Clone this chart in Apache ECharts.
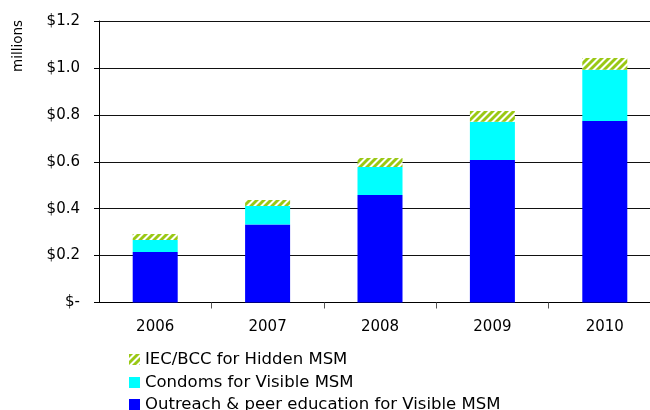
<!DOCTYPE html>
<html>
<head>
<meta charset="utf-8">
<script src="https://cdn.jsdelivr.net/npm/echarts@6/dist/echarts.min.js"></script>
<style>
  html, body { margin: 0; padding: 0; background: #fff; }
  #chart { width: 650px; height: 410px; }
</style>
</head>
<body>
<div id="chart"></div>
<script>
// Annual budget by component, US$ millions
const years = ['2006', '2007', '2008', '2009', '2010'];
const outreach = [0.215, 0.332, 0.458, 0.607, 0.774];
const condoms = [0.051, 0.079, 0.120, 0.164, 0.218];
const iecBcc = [0.026, 0.026, 0.038, 0.045, 0.050];
const yTicks = [0, 0.2, 0.4, 0.6, 0.8, 1.0, 1.2];

const seriesNames = {
  iec: 'IEC/BCC for Hidden MSM',
  condoms: 'Condoms for Visible MSM',
  outreach: 'Outreach & peer education for Visible MSM'
};

// Diagonal ("/") yellow-green and white stripe fill
function stripePattern() {
  const period = 7;
  const c = document.createElement('canvas');
  c.width = period; c.height = period;
  const g = c.getContext('2d');
  const img = g.createImageData(period, period);
  for (let y = 0; y < period; y++) {
    for (let x = 0; x < period; x++) {
      const k = (x + y) % period;
      const i = (y * period + x) * 4;
      let r = 255, gg = 255, b = 255;
      if (k < 3) { r = 154; gg = 200; b = 20; }
      else if (k === 3 || k === 6) { r = 200; gg = 225; b = 130; }
      img.data[i] = r; img.data[i + 1] = gg; img.data[i + 2] = b; img.data[i + 3] = 255;
    }
  }
  g.putImageData(img, 0, 0);
  return { image: c, repeat: 'repeat' };
}

const font = '"DejaVu Sans", Verdana, sans-serif';
const fs = 15;
const chart = echarts.init(document.getElementById('chart'), null, { renderer: 'canvas' });

// One single-entry legend per row, stacked vertically under the plot
function legendRow(name, top) {
  return {
    orient: 'horizontal',
    left: 129,
    top: top,
    padding: 0,
    itemWidth: 11,
    itemHeight: 11,
    itemGap: 0,
    icon: 'rect',
    selectedMode: false,
    textStyle: { fontFamily: font, fontSize: 16.5, color: '#000' },
    data: [name]
  };
}

chart.setOption({
  animation: false,
  textStyle: { fontFamily: font },
  grid: {
    left: 99, top: 21, width: 562, height: 281.5,
    containLabel: false, outerBoundsMode: 'none'
  },
  legend: [
    legendRow(seriesNames.iec, 351),
    legendRow(seriesNames.condoms, 374),
    legendRow(seriesNames.outreach, 396)
  ],
  graphic: [{
    type: 'text',
    x: 18,
    y: 46,
    rotation: Math.PI / 2,
    style: {
      text: 'millions', font: '13.5px ' + font, fill: '#000',
      align: 'center', verticalAlign: 'middle'
    }
  }],
  xAxis: {
    type: 'category',
    data: years,
    axisLine: { lineStyle: { color: '#000', width: 1 } },
    axisTick: {
      show: true, length: 6, lineStyle: { color: '#555' },
      interval: (i) => i !== 0
    },
    axisLabel: { fontSize: fs, color: '#000', margin: 17, fontFamily: font },
    splitLine: { show: false }
  },
  yAxis: {
    type: 'value',
    min: 0,
    max: 1.2,
    interval: 0.2,
    axisLine: { show: true, lineStyle: { color: '#000', width: 1 } },
    axisTick: { show: true, inside: false, length: 5, lineStyle: { color: '#000' } },
    axisLabel: {
      fontSize: fs, color: '#000', margin: 19, fontFamily: font,
      formatter: v => {
        const t = yTicks.find(x => Math.abs(x - v) < 1e-9);
        return t === 0 ? '$-' : '$' + t.toFixed(1);
      }
    },
    splitLine: { show: true, lineStyle: { color: '#111', width: 1 } }
  },
  series: [
    {
      name: seriesNames.outreach, type: 'bar', stack: 'total', barWidth: 45,
      itemStyle: { color: '#0000FF' }, data: outreach
    },
    {
      name: seriesNames.condoms, type: 'bar', stack: 'total', barWidth: 45,
      itemStyle: { color: '#00FFFF' }, data: condoms
    },
    {
      name: seriesNames.iec, type: 'bar', stack: 'total', barWidth: 45,
      itemStyle: { color: stripePattern() }, data: iecBcc
    }
  ]
});
</script>
</body>
</html>
